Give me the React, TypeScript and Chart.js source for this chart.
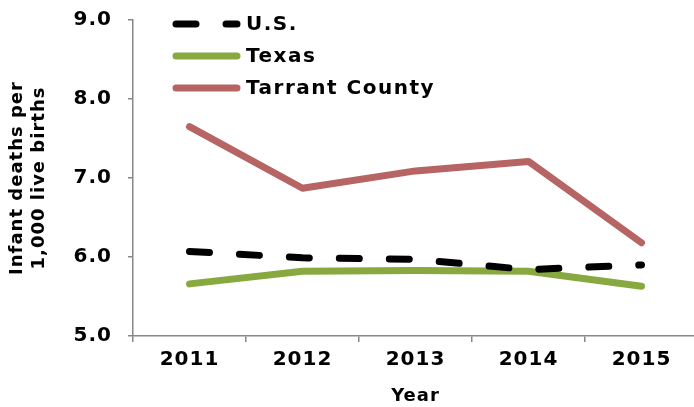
import React, { useEffect, useRef } from "react";
import { Chart, registerables } from "chart.js";

Chart.register(...registerables);

const years = ["2011", "2012", "2013", "2014", "2015"];
const usRates = [6.07, 5.99, 5.97, 5.84, 5.9];
const texasRates = [5.66, 5.82, 5.83, 5.82, 5.63];
const tarrantRates = [7.65, 6.87, 7.09, 7.21, 6.18];
const seriesNames = ["U.S.", "Texas", "Tarrant County"];
const yTitle = ["Infant deaths per", "1,000 live births"];
const xTitle = "Year";

const FONT = "'DejaVu Sans', Verdana, sans-serif";
const AXIS_GREY = "#878787";

const spacingPlugin = {
  id: "letterSpacing",
  beforeLayout(chart: any) {
    chart.ctx.letterSpacing = "1px";
  },
  beforeDraw(chart: any) {
    chart.ctx.letterSpacing = "1px";
  },
};

const legendPlugin = {
  id: "insideLegend",
  afterDraw(chart: any) {
    const ctx = chart.ctx;
    const x0 = 176;
    const x1 = 237;
    const textX = 246;
    const rows = [24, 56, 88];
    ctx.save();
    chart.data.datasets.forEach((ds: any, i: number) => {
      const y = rows[i];
      ctx.beginPath();
      ctx.strokeStyle = ds.borderColor;
      ctx.lineWidth = ds.borderWidth;
      ctx.lineCap = "round";
      ctx.setLineDash(ds.borderDash || []);
      ctx.moveTo(x0, y);
      ctx.lineTo(x1, y);
      ctx.stroke();
      ctx.setLineDash([]);
      ctx.fillStyle = "#000";
      ctx.font = `bold 20px ${FONT}`;
      ctx.letterSpacing = "1.5px";
      ctx.textBaseline = "middle";
      ctx.textAlign = "left";
      ctx.fillText(ds.label, textX, y + 1);
    });
    ctx.restore();
  },
};

export default function App() {
  const canvasRef = useRef<HTMLCanvasElement | null>(null);

  useEffect(() => {
    const canvas = canvasRef.current;
    if (!canvas) return;
    const chart = new Chart(canvas, {
      type: "line",
      data: {
        labels: years,
        datasets: [
          {
            label: seriesNames[0],
            data: usRates,
            borderColor: "#000000",
            borderWidth: 7,
            borderDash: [20, 30],
            borderCapStyle: "round",
            pointRadius: 0,
            tension: 0,
          },
          {
            label: seriesNames[1],
            data: texasRates,
            borderColor: "#87A940",
            borderWidth: 7,
            borderCapStyle: "round",
            borderJoinStyle: "round",
            pointRadius: 0,
            tension: 0,
          },
          {
            label: seriesNames[2],
            data: tarrantRates,
            borderColor: "#B66464",
            borderWidth: 7,
            borderCapStyle: "round",
            borderJoinStyle: "round",
            pointRadius: 0,
            tension: 0,
          },
        ],
      },
      options: {
        animation: false,
        responsive: false,
        maintainAspectRatio: false,
        devicePixelRatio: 1,
        layout: { padding: { top: 20, right: 6, left: 0, bottom: 0 } },
        plugins: {
          legend: { display: false },
          tooltip: { enabled: false },
        },
        scales: {
          x: {
            type: "category",
            offset: true,
            grid: {
              display: true,
              offset: true,
              drawOnChartArea: false,
              drawTicks: true,
              tickLength: 6,
              color: AXIS_GREY,
              lineWidth: 1.5,
            },
            border: { display: true, color: AXIS_GREY, width: 1.5 },
            ticks: {
              color: "#000",
              padding: 6,
              maxRotation: 0,
              font: { family: FONT, size: 20, weight: "bold" },
            },
            title: {
              display: true,
              text: xTitle,
              color: "#000",
              padding: { top: 0, bottom: 0 },
              font: { family: FONT, size: 18, weight: "bold" },
            },
            afterFit: (s: any) => {
              s.height = 71;
              s.paddingLeft = 0;
              s.paddingRight = 0;
            },
          },
          y: {
            min: 5,
            max: 9,
            grid: {
              display: true,
              drawOnChartArea: false,
              drawTicks: true,
              tickLength: 5,
              color: AXIS_GREY,
              lineWidth: 1.5,
            },
            border: { display: true, color: AXIS_GREY, width: 1.5 },
            ticks: {
              stepSize: 1,
              color: "#000",
              padding: 16,
              font: { family: FONT, size: 20, weight: "bold" },
              callback: (v: any) => Number(v).toFixed(1),
            },
            title: {
              display: true,
              text: yTitle,
              color: "#000",
              padding: { top: 7, bottom: 0 },
              font: { family: FONT, size: 18, weight: "bold" },
            },
            afterFit: (s: any) => {
              s.width = 133;
              s.paddingTop = 0;
              s.paddingBottom = 0;
            },
          },
        },
      },
      plugins: [spacingPlugin, legendPlugin],
    } as any);
    return () => chart.destroy();
  }, []);

  return (
    <div
      style={{
        position: "fixed",
        left: 0,
        top: 0,
        width: 694,
        height: 407,
        overflow: "hidden",
        background: "#fff",
      }}
    >
      <canvas ref={canvasRef} width={704} height={407} style={{ width: 704, height: 407, display: "block" }} />
    </div>
  );
}
